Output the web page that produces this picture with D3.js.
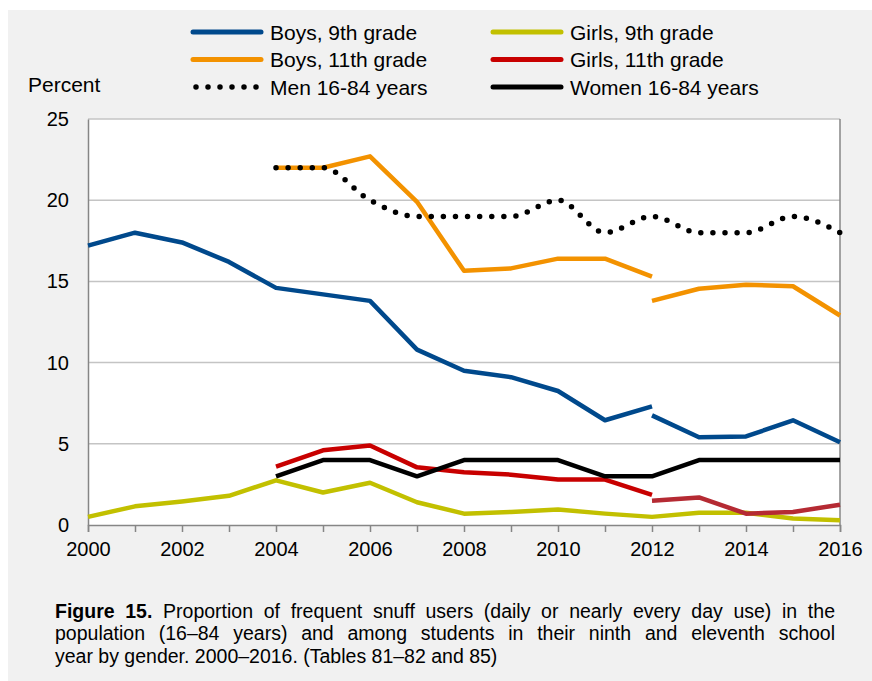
<!DOCTYPE html>
<html>
<head>
<meta charset="utf-8">
<script src="https://cdn.jsdelivr.net/npm/d3@7"></script>
<style>
  body { margin: 0; background: #fff; }
  svg { display: block; font-family: "Liberation Sans", Arial, sans-serif; }
</style>
</head>
<body>
<div id="chart"></div>
<script>
const years = d3.range(2000, 2017);
const yTicks = [0, 5, 10, 15, 20, 25];
const xLabels = [2000, 2002, 2004, 2006, 2008, 2010, 2012, 2014, 2016];

// values per year, null where there is no data
const boys9a  = [17.2, 18.0, 17.4, 16.2, 14.6, 14.2, 13.8, 10.8, 9.5, 9.1, 8.25, 6.45, 7.3, null, null, null, null];
const boys9b  = [null, null, null, null, null, null, null, null, null, null, null, null, 6.75, 5.4, 5.45, 6.45, 5.1];
const boys11a = [null, null, null, null, 22.0, 22.0, 22.7, 19.9, 15.65, 15.8, 16.4, 16.4, 15.3, null, null, null, null];
const boys11b = [null, null, null, null, null, null, null, null, null, null, null, null, 13.8, 14.55, 14.8, 14.7, 12.9];
const girls9  = [0.5, 1.15, 1.45, 1.8, 2.75, 2.0, 2.6, 1.4, 0.7, 0.8, 0.95, 0.7, 0.5, 0.75, 0.75, 0.4, 0.3];
const girls11a = [null, null, null, null, 3.6, 4.6, 4.9, 3.55, 3.25, 3.1, 2.8, 2.8, 1.85, null, null, null, null];
const girls11b = [null, null, null, null, null, null, null, null, null, null, null, null, 1.5, 1.7, 0.7, 0.8, 1.25];
const men     = [null, null, null, null, 22, 22, 20, 19, 19, 19, 20, 18, 19, 18, 18, 19, 18];
const women   = [null, null, null, null, 3, 4, 4, 3, 4, 4, 4, 3, 3, 4, 4, 4, 4];

const blue = "#00498c", orange = "#f39200", olive = "#c2c000", red = "#c80000", red2 = "#b52a33";

const W = 872, H = 681;
const svg = d3.select("#chart").append("svg").attr("width", W).attr("height", H);

// grey panel
svg.append("rect").attr("x", 8).attr("y", 10).attr("width", W - 8).attr("height", H - 10).attr("fill", "#f1f1f1");

const x = d3.scaleLinear().domain([2000, 2016]).range([88, 840]);
const y = d3.scaleLinear().domain([0, 25]).range([525, 119]);

svg.append("rect").attr("x", x(2000)).attr("y", y(25))
    .attr("width", x(2016) - x(2000)).attr("height", y(0) - y(25)).attr("fill", "#fff");

// gridlines
svg.append("g").selectAll("line").data(yTicks.filter(d => d > 0)).join("line")
    .attr("x1", x(2000)).attr("x2", x(2016))
    .attr("y1", d => y(d)).attr("y2", d => y(d))
    .attr("stroke", "#c4c4c4").attr("stroke-width", 1.5);

// y axis
const yAxis = svg.append("g").attr("transform", `translate(${x(2000)},0)`)
    .call(d3.axisLeft(y).tickValues(yTicks).tickSize(0).tickPadding(19));
yAxis.select(".domain").attr("stroke", "#868686").attr("stroke-width", 1.5);
yAxis.selectAll("text").attr("font-size", 20).attr("fill", "#000").attr("font-family", null);

// right border
svg.append("line").attr("x1", x(2016)).attr("x2", x(2016)).attr("y1", y(25)).attr("y2", y(0))
    .attr("stroke", "#868686").attr("stroke-width", 1.5);

// x axis
const xAxis = svg.append("g").attr("transform", `translate(0,${y(0)})`)
    .call(d3.axisBottom(x).tickValues(years).tickSize(7).tickFormat(d => xLabels.includes(d) ? d : ""));
xAxis.select(".domain").attr("stroke", "#868686").attr("stroke-width", 1.5);
xAxis.selectAll("line").attr("stroke", "#868686").attr("stroke-width", 1.5);
xAxis.selectAll("text").attr("font-size", 20).attr("fill", "#000").attr("font-family", null).attr("dy", "1.05em");

// lines
const line = d3.line().defined(d => d != null).x((d, i) => x(years[i])).y(d => y(d));
const smooth = d3.line().defined(d => d != null).x((d, i) => x(years[i])).y(d => y(d)).curve(d3.curveMonotoneX);

const series = [
  { data: girls9, color: olive },
  { data: girls11a, color: red },
  { data: girls11b, color: red2 },
  { data: women, color: "#000" },
  { data: boys9a, color: blue },
  { data: boys9b, color: blue },
  { data: boys11a, color: orange },
  { data: boys11b, color: orange }
];
svg.append("g").selectAll("path").data(series).join("path")
    .attr("d", d => line(d.data))
    .attr("fill", "none").attr("stroke", d => d.color)
    .attr("stroke-width", 4.5).attr("stroke-linejoin", "round");

svg.append("path").attr("d", smooth(men))
    .attr("fill", "none").attr("stroke", "#000").attr("stroke-width", 5.5)
    .attr("stroke-linecap", "round").attr("stroke-dasharray", "0 12.1");

// legend
const legend = [
  { label: "Boys, 9th grade", color: blue, col: 0, row: 0 },
  { label: "Girls, 9th grade", color: olive, col: 1, row: 0 },
  { label: "Boys, 11th grade", color: orange, col: 0, row: 1 },
  { label: "Girls, 11th grade", color: red, col: 1, row: 1 },
  { label: "Men 16-84 years", color: "#000", col: 0, row: 2, dotted: true },
  { label: "Women 16-84 years", color: "#000", col: 1, row: 2 }
];
const lg = svg.append("g").selectAll("g").data(legend).join("g")
    .attr("transform", d => `translate(${193 + d.col * 300},${32 + d.row * 27.5})`);
lg.append("line").attr("x1", d => d.dotted ? 3 : 0).attr("x2", 68)
    .attr("stroke", d => d.color)
    .attr("stroke-width", d => d.dotted ? 5.5 : 5)
    .attr("stroke-linecap", "round")
    .attr("stroke-dasharray", d => d.dotted ? "0 12" : null);
lg.append("text").attr("x", 77).attr("y", 7.5).attr("font-size", 21).text(d => d.label);

svg.append("text").attr("x", 28).attr("y", 92).attr("font-size", 21).text("Percent");

// caption
const caption = [
  { bold: "Figure 15.", rest: " Proportion of frequent snuff users (daily or nearly every day use) in the", justify: true },
  { bold: "", rest: "population (16–84 years) and among students in their ninth and eleventh school", justify: true },
  { bold: "", rest: "year by gender. 2000–2016. (Tables 81–82 and 85)", justify: false }
];
caption.forEach((c, i) => {
  const t = svg.append("text").attr("x", 55).attr("y", 617.5 + i * 22.5).attr("font-size", 19.5);
  if (c.bold) t.append("tspan").attr("font-weight", "bold").text(c.bold);
  t.append("tspan").text(c.rest);
  if (c.justify) {
    const len = t.node().getComputedTextLength();
    const gaps = (c.bold + c.rest).split(" ").length - 1;
    t.attr("word-spacing", (835 - 55 - len) / gaps);
  }
});
</script>
</body>
</html>
